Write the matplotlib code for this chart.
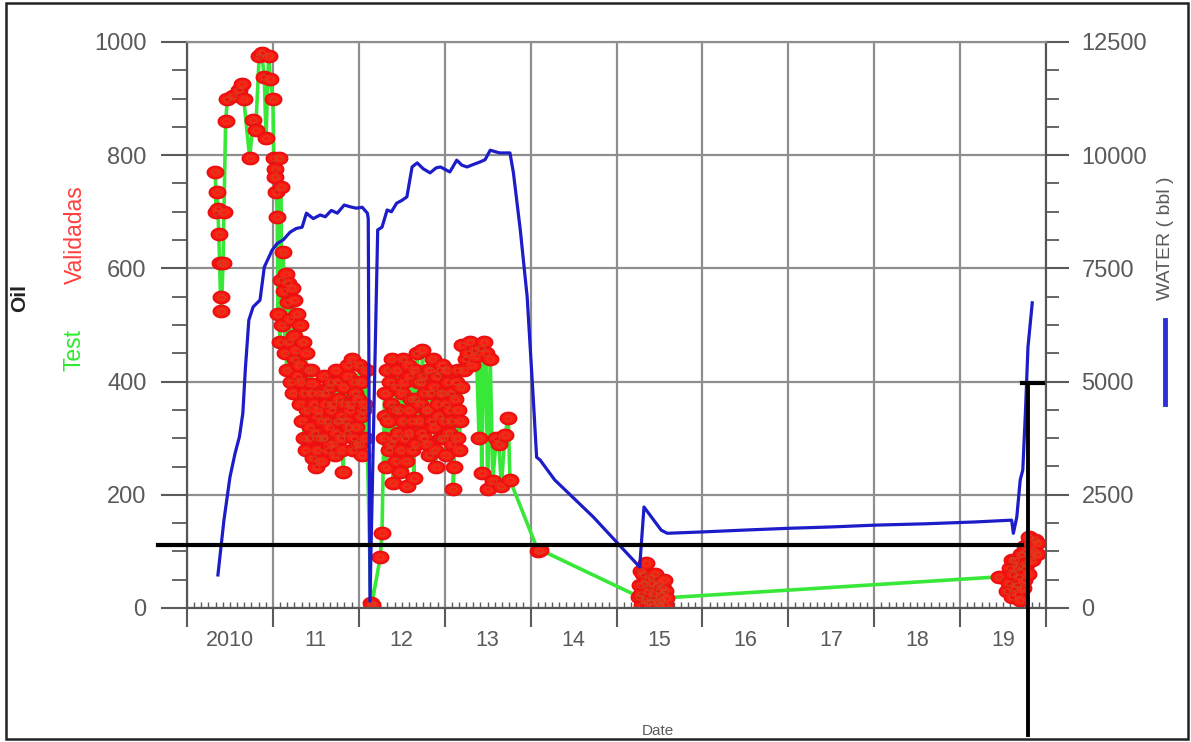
import matplotlib
matplotlib.use("Agg")
import matplotlib.pyplot as plt
import numpy as np
from matplotlib.path import Path
from matplotlib.lines import Line2D
from matplotlib.patches import Rectangle
from matplotlib.ticker import MultipleLocator

plt.rcParams["font.family"] = ["Liberation Sans", "DejaVu Sans"]

W, H = 1191, 742

# oil well tests, decimal year / bbl (green line = test, red = validated)
oil_dates = [
    2010.33, 2010.34, 2010.35, 2010.36, 2010.37, 2010.38, 2010.39, 2010.40, 2010.42, 2010.43, 2010.45, 2010.47,
    2010.53, 2010.60, 2010.64, 2010.66, 2010.73,
    2010.77, 2010.80, 2010.84, 2010.87, 2010.90, 2010.92, 2010.95, 2010.97,
    2011.00, 2011.01, 2011.02, 2011.03, 2011.04, 2011.05, 2011.07, 2011.09, 2011.10, 2011.12, 2011.13,
    2011.15, 2011.17, 2011.18, 2011.20, 2011.22, 2011.24, 2011.25, 2011.27, 2011.28, 2011.30, 2011.32,
    2011.33, 2011.35, 2011.37, 2011.38, 2011.40, 2011.41, 2011.43, 2011.45, 2011.47, 2011.48, 2011.50,
    2011.52, 2011.54, 2011.55, 2011.57, 2011.59, 2011.60, 2011.62, 2011.64, 2011.65, 2011.67, 2011.69,
    2011.71, 2011.73, 2011.75, 2011.77, 2011.79, 2011.80, 2011.82, 2011.84, 2011.86, 2011.88, 2011.90,
    2011.92, 2011.94, 2011.96, 2011.98, 2012.00, 2012.02, 2012.04, 2012.06,
    2012.14, 2012.15, 2012.25, 2012.27,
    2012.29, 2012.30, 2012.32, 2012.34, 2012.36, 2012.38, 2012.40, 2012.42, 2012.44, 2012.46, 2012.48,
    2012.50, 2012.52, 2012.54, 2012.56, 2012.58, 2012.60, 2012.62, 2012.64, 2012.66, 2012.68, 2012.70,
    2012.72, 2012.74, 2012.76, 2012.78, 2012.80, 2012.82, 2012.84, 2012.86, 2012.88, 2012.90, 2012.92,
    2012.94, 2012.96, 2012.98, 2013.00, 2013.02, 2013.04, 2013.06, 2013.08, 2013.10, 2013.12, 2013.14,
    2013.16, 2013.18, 2013.20, 2013.25, 2013.30, 2013.35, 2013.40, 2013.43, 2013.46, 2013.50, 2013.53,
    2013.56, 2013.60, 2013.63, 2013.66, 2013.70, 2013.74, 2013.76,
    2014.09, 2014.11,
    2015.26, 2015.28, 2015.30, 2015.32, 2015.34, 2015.36, 2015.38, 2015.40, 2015.42, 2015.44, 2015.46,
    2015.48, 2015.50, 2015.52, 2015.54, 2015.56, 2015.58,
    2019.45, 2019.55, 2019.58, 2019.60, 2019.62, 2019.64, 2019.66, 2019.68, 2019.70, 2019.72, 2019.74,
    2019.76, 2019.78, 2019.80, 2019.83, 2019.86, 2019.89,
]
oil_values = [
    770, 700, 735, 705, 660, 610, 550, 525, 610, 700, 860, 900,
    905, 915, 925, 900, 795,
    862, 845, 975, 980, 938, 830, 975, 935,
    900, 795, 775, 762, 735, 690, 795, 744, 580, 629, 560,
    590, 540, 575, 510, 565, 480, 545, 455, 520, 430, 500,
    400, 470, 380, 450, 350, 420, 320, 395, 265, 360, 250,
    340, 300, 380, 330, 410, 300, 360, 280, 390, 320, 350,
    290, 420, 330, 370, 300, 340, 240, 360, 310, 430, 350,
    440, 300, 380, 290, 430, 340, 270, 360,
    8, 5, 90, 132,
    300, 380, 250, 330, 400, 290, 220, 350, 420, 310, 240,
    380, 440, 300, 215, 350, 410, 280, 230, 370, 450, 330,
    400, 455, 300, 350, 420, 270, 380, 440, 320, 250, 360,
    420, 300, 380, 330, 270, 400, 350, 290, 210, 370, 300,
    420, 330, 465, 440, 470, 455, 300, 238, 470, 210, 440,
    225, 300, 290, 215, 305, 336, 226,
    100, 103,
    20, 65, 5, 45, 80, 10, 35, 55, 3, 25, 40,
    8, 30, 15, 35, 5, 18,
    55, 30, 70, 20, 60, 85, 40, 75, 15, 95, 50,
    110, 80, 125, 90, 100, 115,
]

# further tests inside the dense clusters
cluster_dates = [
    2011.06, 2011.08, 2011.11, 2011.14, 2011.16, 2011.19, 2011.21, 2011.23, 2011.26, 2011.29,
    2011.31, 2011.34, 2011.36, 2011.39, 2011.42, 2011.44, 2011.46, 2011.49, 2011.51, 2011.53,
    2011.56, 2011.58, 2011.61, 2011.63, 2011.66, 2011.68, 2011.70, 2011.72, 2011.74, 2011.76,
    2011.78, 2011.81, 2011.83, 2011.85, 2011.87, 2011.89, 2011.91, 2011.93, 2011.95, 2011.97,
    2011.99, 2012.01, 2012.03, 2012.05, 2012.07, 2012.08,
    2012.31, 2012.33, 2012.35, 2012.37, 2012.39, 2012.41, 2012.43, 2012.45, 2012.47, 2012.49,
    2012.51, 2012.53, 2012.55, 2012.57, 2012.59, 2012.61, 2012.63, 2012.65, 2012.67, 2012.69,
    2012.71, 2012.73, 2012.75, 2012.77, 2012.79, 2012.81, 2012.83, 2012.85, 2012.87, 2012.89,
    2012.91, 2012.93, 2012.95, 2012.97, 2012.99, 2013.01, 2013.03, 2013.05, 2013.07, 2013.09,
    2013.11, 2013.13, 2013.15, 2013.17, 2013.19, 2013.22, 2013.27, 2013.32, 2013.37, 2013.42,
    2013.48,
    2015.27, 2015.29, 2015.31, 2015.33, 2015.35, 2015.37, 2015.39, 2015.41, 2015.43, 2015.45,
    2015.47, 2015.49, 2015.51, 2015.53, 2015.55, 2015.57,
    2019.57, 2019.61, 2019.63, 2019.65, 2019.67, 2019.69, 2019.71, 2019.73, 2019.75, 2019.77,
    2019.79, 2019.81, 2019.84, 2019.87, 2019.90,
]
cluster_values = [
    520, 470, 500, 450, 420, 470, 400, 380, 440, 410,
    360, 330, 300, 280, 300, 420, 380, 310, 280, 350,
    260, 300, 380, 330, 290, 400, 360, 270, 310, 400,
    330, 280, 390, 330, 410, 320, 360, 280, 400, 320,
    370, 290, 400, 350, 300, 420,
    340, 420, 280, 360, 440, 300, 260, 390, 350, 280,
    330, 400, 260, 430, 310, 370, 330, 420, 290, 400,
    360, 310, 410, 380, 290, 350, 420, 330, 390, 280,
    410, 340, 380, 430, 300, 360, 420, 310, 380, 330,
    250, 400, 350, 280, 390, 420, 450, 430, 445, 460,
    450,
    40, 25, 60, 15, 50, 30, 10, 45, 20, 60,
    12, 45, 5, 25, 50, 30,
    45, 85, 35, 70, 25, 55, 95, 35, 70, 100,
    60, 105, 85, 120, 95,
]

# water, decimal year / bbl
water_dates = [
    2010.36, 2010.43, 2010.50, 2010.56, 2010.61, 2010.65, 2010.68, 2010.72, 2010.77, 2010.85, 2010.90,
    2010.99, 2011.05, 2011.12, 2011.20, 2011.27, 2011.34, 2011.39, 2011.47, 2011.55, 2011.61, 2011.68,
    2011.75, 2011.83, 2011.90, 2011.97, 2012.04, 2012.10, 2012.11, 2012.13, 2012.22,
    2012.27, 2012.33, 2012.38, 2012.44, 2012.50, 2012.56, 2012.62, 2012.68, 2012.75, 2012.83, 2012.90,
    2012.95, 2013.01, 2013.06, 2013.14, 2013.20, 2013.26, 2013.34, 2013.41, 2013.47, 2013.53, 2013.64,
    2013.76, 2013.80, 2013.88, 2013.96, 2014.03, 2014.07, 2014.11, 2014.28, 2014.73, 2015.27,
    2015.32, 2015.52, 2015.59, 2016.00, 2016.48, 2017.00, 2017.50, 2018.01, 2018.60, 2019.17, 2019.60,
    2019.62, 2019.66, 2019.70, 2019.73, 2019.76, 2019.79, 2019.84,
]
water_values = [
    730, 1940, 2890, 3420, 3780, 4300, 5300, 6360, 6650, 6800, 7530,
    7900, 8050, 8130, 8300, 8380, 8410, 8720, 8600, 8680, 8640, 8780,
    8720, 8900, 8860, 8830, 8850, 8720, 8600, 150, 8350,
    8410, 8790, 8750, 8940, 9000, 9080, 9740, 9830, 9700, 9610, 9720,
    9740, 9680, 9630, 9890, 9780, 9740, 9800, 9850, 9900, 10110, 10050,
    10050, 9610, 8350, 6870, 4660, 3330, 3270, 2830, 2010, 905,
    2230, 1720, 1650, 1680, 1720, 1760, 1790, 1830, 1860, 1900, 1940,
    1650, 2010, 2830, 3050, 4300, 5760, 6740,
]

years = list(range(2010, 2021))
year_labels = ["2010", "11", "12", "13", "14", "15", "16", "17", "18", "19"]

# hand-drawn black marks over the chart
mark_oil = 111
mark_h_start, mark_h_end = 2009.66, 2019.72
mark_v_date = 2019.79
mark_v_water = 4970

all_dates = np.array(oil_dates + cluster_dates)
all_values = np.array(oil_values + cluster_values)
order = np.argsort(all_dates, kind="stable")
all_dates, all_values = all_dates[order], all_values[order]

fig = plt.figure(figsize=(W / 100, H / 100), dpi=100)
ax = fig.add_axes([187 / W, 1 - 608 / H, (1046 - 187) / W, (608 - 42) / H])
ax2 = ax.twinx()

grey = "#5a5a5a"
ax.set_xlim(2010, 2020)
ax.set_ylim(0, 1000)
ax2.set_ylim(0, 12500)

ax.set_xticks(years)
ax.set_xticklabels([])
ax.xaxis.set_minor_locator(MultipleLocator(1 / 12))
ax.set_yticks(range(0, 1001, 200))
ax.yaxis.set_minor_locator(MultipleLocator(50))
ax2.set_yticks(range(0, 12501, 2500))
ax2.yaxis.set_minor_locator(MultipleLocator(625))

ax.grid(True, which="major", color="#8e8e8e", lw=1.6)
ax.set_axisbelow(True)
ax.tick_params(axis="x", which="major", length=14, width=1.5, color=grey, direction="out")
ax.tick_params(axis="x", which="minor", length=4, width=1, color=grey, direction="in")
ax.tick_params(axis="y", which="major", length=19, width=1.5, color=grey, pad=10,
               labelsize=17, labelcolor=grey)
ax.tick_params(axis="y", which="minor", length=11, width=1.3, color=grey)
ax2.tick_params(axis="y", which="major", length=16.5, width=1.5, color=grey, pad=9,
                labelsize=17, labelcolor=grey)
ax2.tick_params(axis="y", which="minor", length=9.5, width=1.3, color=grey)
for a in (ax, ax2):
    for s in a.spines.values():
        s.set_color("#555555")
        s.set_linewidth(1.5)
    a.spines["top"].set_color("#8e8e8e")

for yr, lab in zip(years[:-1], year_labels):
    ax.text(yr + 0.5, -0.038, lab, transform=ax.get_xaxis_transform(), ha="center", va="top",
            fontsize=15.5, color=grey)

# ellipse marker
theta = np.linspace(0, 2 * np.pi, 41)
ell = Path(np.column_stack([np.cos(theta), 0.74 * np.sin(theta)]), closed=True)

ax.plot(all_dates, all_values, color="#38e838", lw=2.6, zorder=2)
ax.plot(all_dates, all_values, ls="none", marker=ell, ms=11.5, mfc="#ff1a12", mec="#e81010",
        mew=1.4, zorder=3)
ax.plot(all_dates, all_values, ls="none", marker=ell, ms=5, mfc="none", mec="#cc4a22",
        mew=0.7, zorder=3.5)

ax2.plot(water_dates, water_values, color="#1c1cc8", lw=2.3, zorder=4)

# black annotation marks
ax2.plot([mark_h_start, mark_h_end], [mark_oil * 12.5, mark_oil * 12.5], color="black", lw=3,
         clip_on=False, zorder=6)
ax2.plot([mark_v_date, mark_v_date], [mark_v_water, -2800], color="black", lw=2.8,
         clip_on=False, zorder=6)
ax2.plot([mark_h_end, 2019.97], [mark_v_water, mark_v_water], color="black", lw=3,
         clip_on=False, zorder=6)

# axis titles
fig.text(20 / W, 1 - 298 / H, "Oil", rotation=90, ha="center", va="center", fontsize=15,
         fontweight="bold", color="#222222")
fig.text(75 / W, 1 - 235 / H, "Validadas", rotation=90, ha="center", va="center", fontsize=16.5,
         color="#ff3f3f")
fig.text(74 / W, 1 - 350 / H, "Test", rotation=90, ha="center", va="center", fontsize=16.5,
         color="#2ee82e")
fig.text(1166 / W, 1 - 238 / H, "WATER ( bbl )", rotation=90, ha="center", va="center",
         fontsize=14, color=grey)
fig.add_artist(Line2D([1165 / W, 1165 / W], [1 - 320 / H, 1 - 404 / H], color="#3030d8", lw=3.5))
fig.text(658 / W, 1 - 731 / H, "Date", ha="center", va="center", fontsize=11, color=grey)

fig.add_artist(Rectangle((6 / W, 1 - 739 / H), 1182 / W, 736 / H, fill=False, ec="#222222",
                         lw=1.8, transform=fig.transFigure))

fig.savefig("out.png", dpi=100)
